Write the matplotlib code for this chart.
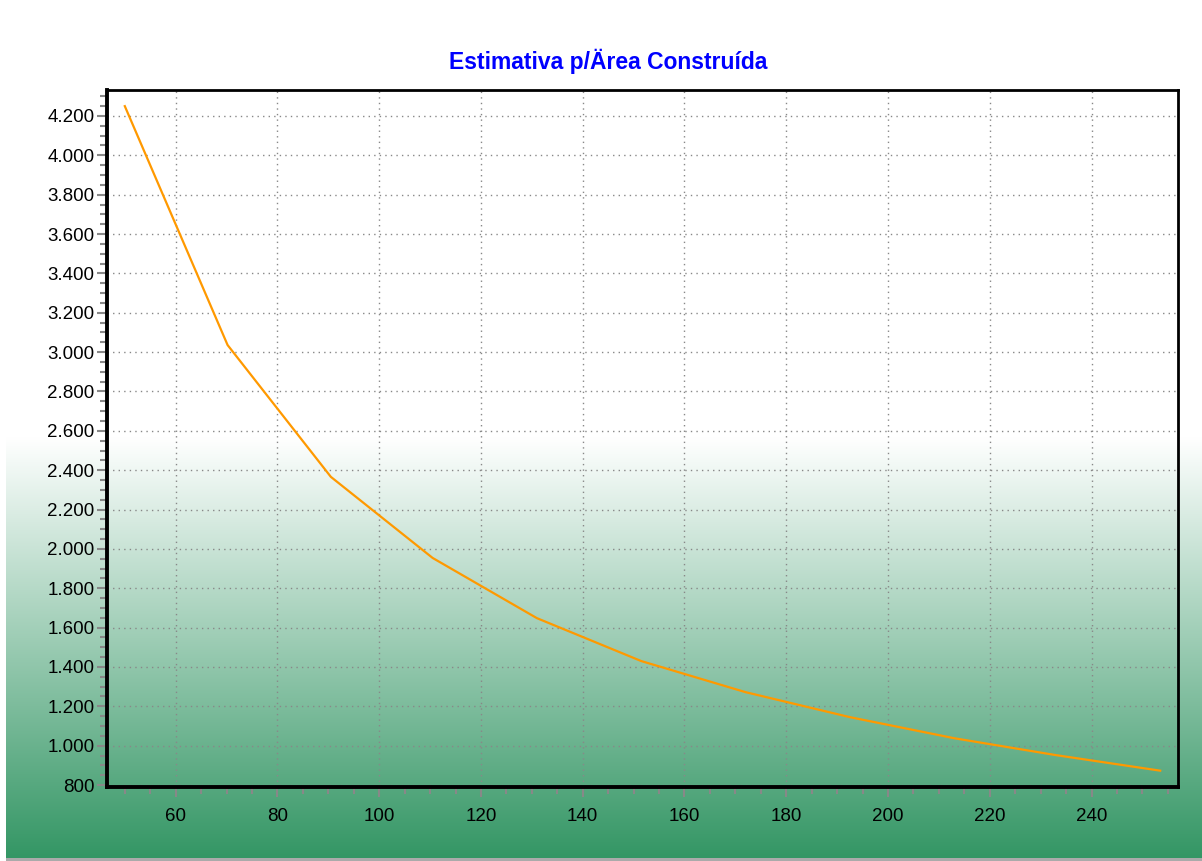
import numpy as np
import matplotlib.pyplot as plt
from matplotlib.ticker import FuncFormatter, MultipleLocator

# values
area = [50, 70.2, 90.5, 110.5, 131, 151.5, 172, 192.5, 213, 233, 253.5]
estimate = [4250, 3036, 2366, 1954, 1648, 1430, 1272, 1145, 1038, 952, 873]

x_ticks = [60, 80, 100, 120, 140, 160, 180, 200, 220, 240]
y_ticks = list(range(800, 4201, 200))

title = "Estimativa p/Ärea Construída"

plt.rcParams["font.family"] = ["Liberation Sans", "DejaVu Sans"]

W, H = 1202, 861
fig = plt.figure(figsize=(W / 100, H / 100), dpi=100)
fig.patch.set_facecolor("white")

# background gradient: white above ~y=437, fading to green at the bottom
bg = fig.add_axes([0, 0, 1, 1], zorder=0)
rows = np.arange(437, 858)
t = ((rows - 437) / (858 - 437))[:, None]
top = np.array([1.0, 1.0, 1.0])
bottom = np.array([51, 150, 100]) / 255
grad = top * (1 - t) + bottom * t
img = np.repeat(grad[:, None, :], 2, axis=1)
bg.imshow(img, extent=[6, W, 858, 437], aspect="auto", interpolation="bilinear")
bg.axhspan(858, H, xmin=6 / W, color="#aaaaaa", lw=0)
bg.set_xlim(0, W)
bg.set_ylim(H, 0)
bg.axis("off")

ax = fig.add_axes([107 / W, 74 / H, 1071 / W, 697 / H], zorder=1)
ax.patch.set_alpha(0)
ax.plot(area, estimate, color="#ff9900", lw=1.6)

ax.set_xlim(46.5, 257)
ax.set_ylim(790, 4332)
ax.set_xticks(x_ticks)
ax.set_yticks(y_ticks)
ax.xaxis.set_minor_locator(MultipleLocator(5))
ax.yaxis.set_minor_locator(MultipleLocator(50))
ax.yaxis.set_major_formatter(FuncFormatter(lambda v, p: f"{int(v):,}".replace(",", ".")))

ax.grid(True, which="major", color="#888888", linestyle=(0, (1, 3)), lw=1)
ax.tick_params(which="major", length=7, width=1.5, color="#888888", labelsize=13.5, pad=2)
ax.tick_params(which="minor", length=5, width=1.5, color="#888888")
ax.tick_params(axis="x", pad=8)

for side in ["left", "bottom"]:
    ax.spines[side].set_linewidth(2.8)
for side in ["top", "right"]:
    ax.spines[side].set_linewidth(2)
for s in ax.spines.values():
    s.set_color("black")

fig.text(608 / W, 1 - 61 / H, title, ha="center", va="center", color="#0000ff",
         fontsize=16.5, fontweight="bold")

fig.savefig("out.png", dpi=100)
